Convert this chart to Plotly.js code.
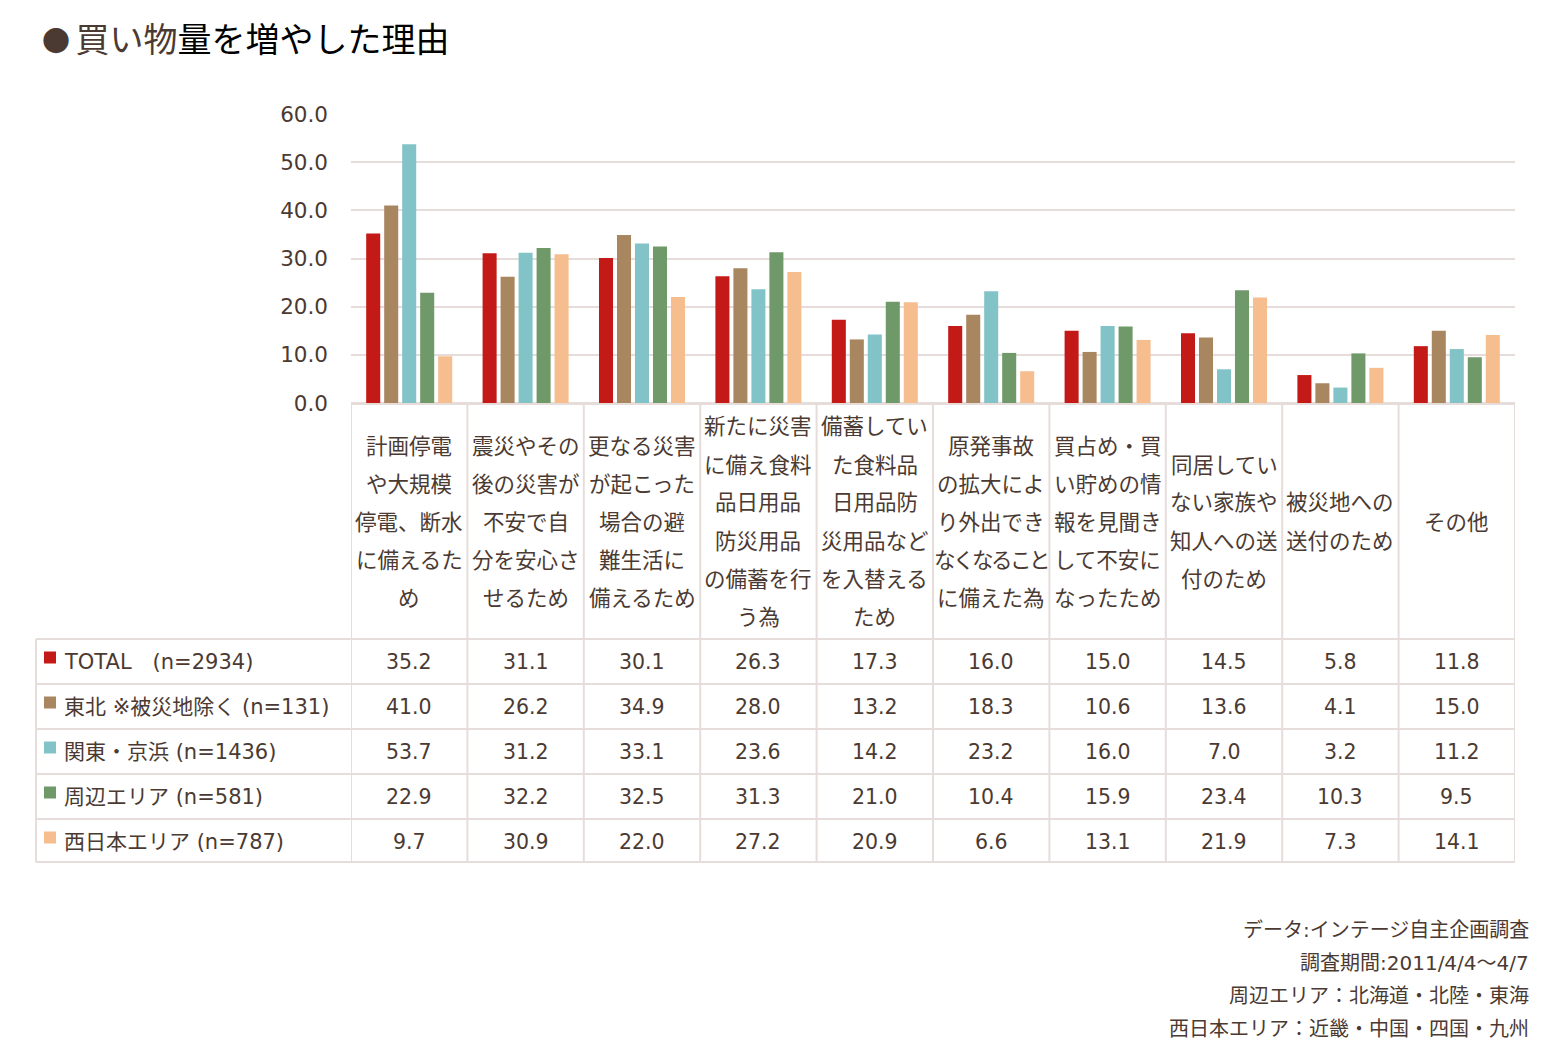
<!DOCTYPE html>
<html>
<head>
<meta charset="utf-8">
<script src="https://cdn.plot.ly/plotly-3.0.1.min.js"></script>
<style>
  html, body { margin: 0; padding: 0; background: #ffffff; }
  #chart { width: 1545px; height: 1058px; }
</style>
</head>
<body>
<div id="chart"></div>
<script>
// Reasons for buying more than usual (%), by region
const categoryLines = [
  ["計画停電", "や大規模", "停電、断水", "に備えるた", "め"],
  ["震災やその", "後の災害が", "不安で自", "分を安心さ", "せるため"],
  ["更なる災害", "が起こった", "場合の避", "難生活に", "備えるため"],
  ["新たに災害", "に備え食料", "品日用品", "防災用品", "の備蓄を行", "う為"],
  ["備蓄してい", "た食料品", "日用品防", "災用品など", "を入替える", "ため"],
  ["原発事故", "の拡大によ", "り外出でき", "なくなること", "に備えた為"],
  ["買占め・買", "い貯めの情", "報を見聞き", "して不安に", "なったため"],
  ["同居してい", "ない家族や", "知人への送", "付のため"],
  ["被災地への", "送付のため"],
  ["その他"]
];

const seriesNames = [
  "TOTAL　(n=2934)",
  "東北 ※被災地除く (n=131)",
  "関東・京浜 (n=1436)",
  "周辺エリア (n=581)",
  "西日本エリア (n=787)"
];

const totalVals    = [35.2, 31.1, 30.1, 26.3, 17.3, 16.0, 15.0, 14.5, 5.8, 11.8];
const tohokuVals   = [41.0, 26.2, 34.9, 28.0, 13.2, 18.3, 10.6, 13.6, 4.1, 15.0];
const kantoVals    = [53.7, 31.2, 33.1, 23.6, 14.2, 23.2, 16.0, 7.0, 3.2, 11.2];
const shuhenVals   = [22.9, 32.2, 32.5, 31.3, 21.0, 10.4, 15.9, 23.4, 10.3, 9.5];
const nishiVals    = [9.7, 30.9, 22.0, 27.2, 20.9, 6.6, 13.1, 21.9, 7.3, 14.1];

const seriesValues = [totalVals, tohokuVals, kantoVals, shuhenVals, nishiVals];
const seriesColors = ["#c31a17", "#a8865f", "#82c3c7", "#6f9969", "#f6bd8f"];

const yTicks = [0, 10, 20, 30, 40, 50, 60];

const footnoteLines = [
  "データ:インテージ自主企画調査",
  "調査期間:2011/4/4～4/7",
  "周辺エリア：北海道・北陸・東海",
  "西日本エリア：近畿・中国・四国・九州"
];

const titleBullet = "●";
const titleBrown = "買い物";
const titleRest = "量を増やした理由";

// ---- page geometry helpers (pixel -> paper) ----
const W = 1545, H = 1058;
const px = x => x / W;
const py = y => 1 - y / H;

const TEXT = "#4b3a32";
const LINE = "#e6dddb";
const FONT = "DejaVu Sans, 'Noto Sans CJK JP', sans-serif";
const CJK = "'Noto Sans CJK JP', DejaVu Sans, sans-serif";

const categories = categoryLines.map(l => l.join(""));

const traces = seriesValues.map((vals, s) => ({
  type: "bar",
  name: seriesNames[s],
  x: categories,
  y: vals,
  marker: { color: seriesColors[s], line: { width: 0 } },
  hoverinfo: "skip"
}));

const plotTop = 114, plotBottom = 403, plotLeft = 351, plotRight = 1515;
const headerBottom = 639;
const rowH = 45;
const rowLines = [639, 684, 729, 774, 819, 862];

const shapes = [];
const annotations = [];

// table grid: horizontal lines
rowLines.forEach(y => {
  shapes.push({ type: "line", xref: "paper", yref: "paper",
    x0: px(36), x1: px(plotRight), y0: py(y), y1: py(y),
    line: { color: LINE, width: 2 } });
});
// vertical lines at category boundaries
for (let i = 0; i <= categories.length; i++) {
  shapes.push({ type: "line", xref: "x", yref: "paper",
    x0: i - 0.5, x1: i - 0.5, y0: py(plotBottom), y1: py(862),
    line: { color: LINE, width: 2 } });
}
// left border of legend column
shapes.push({ type: "line", xref: "paper", yref: "paper",
  x0: px(36), x1: px(36), y0: py(headerBottom), y1: py(862),
  line: { color: LINE, width: 2 } });

// category header text, one annotation per line
const lineStep = 38;
const headerMid = (plotBottom + headerBottom) / 2;
categoryLines.forEach((lines, i) => {
  const n = lines.length;
  lines.forEach((t, k) => {
    const yc = headerMid + (k - (n - 1) / 2) * lineStep;
    // long kana lines are set a little tighter so they stay inside the cell
    const txt = t.length >= 6 ? '<span style="letter-spacing:-2.5px">' + t + '</span>' : t;
    annotations.push({ xref: "x", yref: "paper", x: i, y: py(yc - 1),
      text: txt, showarrow: false, xanchor: "center", yanchor: "middle",
      font: { family: CJK, size: 21.5, color: TEXT } });
  });
});

// table rows: legend key + values
seriesValues.forEach((vals, s) => {
  const yc = rowLines[s] + rowH / 2;
  shapes.push({ type: "rect", xref: "paper", yref: "paper",
    x0: px(44), x1: px(56), y0: py(yc - 10), y1: py(yc + 2),
    fillcolor: seriesColors[s], line: { width: 0 } });
  annotations.push({ xref: "paper", yref: "paper", x: px(62), y: py(yc),
    text: seriesNames[s], showarrow: false, xanchor: "left", yanchor: "middle",
    font: { family: FONT, size: 21, color: TEXT } });
  vals.forEach((v, i) => {
    annotations.push({ xref: "x", yref: "paper", x: i, y: py(yc),
      text: v.toFixed(1), showarrow: false, xanchor: "center", yanchor: "middle",
      font: { family: FONT, size: 20.5, color: TEXT } });
  });
});

// title: bullet, brown lead-in, black remainder
annotations.push({ xref: "paper", yref: "paper", x: px(40), y: py(37),
  text: '<span style="color:#4b3a32;font-size:28px">' + titleBullet + '\u2009</span>' +
        '<span style="color:#4b3a32">' + titleBrown + '</span>' + titleRest,
  showarrow: false, xanchor: "left", yanchor: "middle",
  font: { family: CJK, size: 34, color: "#000000" } });

// source notes
footnoteLines.forEach((t, k) => {
  annotations.push({ xref: "paper", yref: "paper", x: px(1531), y: py(930 + k * 33),
    text: t, showarrow: false, xanchor: "right", yanchor: "middle",
    font: { family: FONT, size: 20, color: TEXT } });
});

const layout = {
  width: W, height: H,
  margin: { l: 0, r: 0, t: 0, b: 0 },
  paper_bgcolor: "#ffffff",
  plot_bgcolor: "#ffffff",
  showlegend: false,
  barmode: "group",
  bargap: 0.227,
  bargroupgap: 0.22,
  xaxis: {
    domain: [px(plotLeft), px(plotRight)],
    type: "category",
    range: [-0.5, categories.length - 0.5],
    showticklabels: false,
    showgrid: false,
    zeroline: false,
    showline: false,
    ticks: ""
  },
  yaxis: {
    domain: [py(plotBottom), py(plotTop)],
    range: [0, 60],
    tickvals: yTicks,
    tickformat: ".1f",
    showgrid: true,
    gridcolor: LINE,
    gridwidth: 2,
    zeroline: true,
    zerolinecolor: LINE,
    zerolinewidth: 3,
    showline: false,
    ticks: "",
    ticklabelstandoff: 22,
    tickfont: { family: FONT, size: 21.5, color: TEXT }
  },
  shapes: shapes,
  annotations: annotations
};

Plotly.newPlot("chart", traces, layout, { staticPlot: true, displayModeBar: false });
</script>
</body>
</html>
